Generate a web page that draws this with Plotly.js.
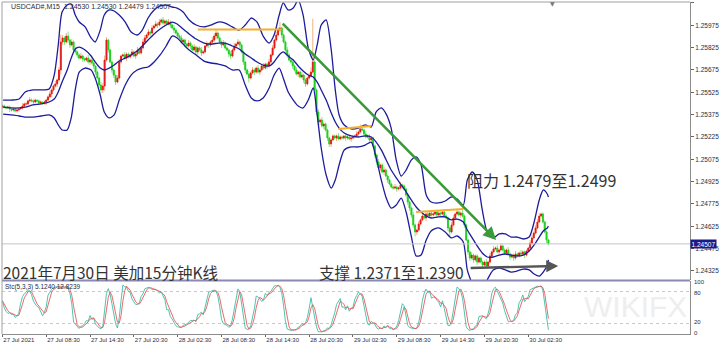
<!DOCTYPE html>
<html><head><meta charset="utf-8">
<script src="https://cdn.plot.ly/plotly-3.0.1.min.js"></script>
<style>html,body{margin:0;padding:0;background:#fff;overflow:hidden}#chart{width:720px;height:345px}</style>
</head><body><div id="chart"></div>
<script>
// ---------- DATA ----------
const symbolHeader = "USDCAD#,M15  1.24530 1.24530 1.24479 1.24507";
const stochHeader = "Stc(5,3,3) 5.1240 12.8239";
const firstOpen = 1.25426;
const closes = [
1.25433,1.25426,1.25420,1.25426,1.25413,1.25406,1.25413,1.25400,1.25406,1.25413,1.25420,
1.25433,1.25447,1.25447,1.25467,1.25473,1.25467,
1.25460,1.25473,1.25467,1.25453,1.25460,
1.25453,1.25460,1.25473,1.25494,1.25514,
1.25541,1.25567,1.25581,1.25608,1.25675,
1.25863,
1.25890,1.25863,1.25903,1.25876,1.25843,1.25863,
1.25809,1.25796,1.25776,1.25755,1.25769,
1.25749,1.25742,1.25755,1.25729,1.25742,1.25722,
1.25702,1.25661,1.25621,1.25574,1.25541,1.25567,
1.25742,1.25876,
1.25809,1.25729,1.25675,1.25641,1.25594,1.25621,
1.25729,1.25769,1.25776,1.25755,1.25782,1.25762,
1.25776,1.25796,1.25769,1.25782,1.25809,1.25789,1.25823,
1.25863,1.25890,
1.25910,1.25930,1.25923,1.25957,1.25970,1.25984,1.25977,
1.25997,1.26011,1.25990,1.26004,1.25984,1.25997,1.25977,
1.25957,1.25943,1.25923,1.25903,1.25890,1.25863,1.25876,1.25849,1.25836,1.25856,
1.25836,1.25809,1.25829,1.25796,1.25823,1.25809,1.25789,1.25796,
1.25836,1.25849,1.25843,1.25863,1.25876,1.25903,1.25923,1.25890,
1.25863,1.25843,1.25856,1.25823,1.25809,1.25782,1.25769,1.25809,
1.25836,1.25849,1.25863,1.25843,
1.25796,1.25729,1.25675,1.25648,
1.25621,1.25655,1.25675,1.25661,1.25688,1.25661,1.25675,
1.25702,1.25688,1.25715,1.25702,1.25729,
1.25776,1.25823,1.25876,1.25910,1.25943,1.25957,
1.25910,1.25863,1.25809,1.25776,1.25742,1.25729,1.25702,
1.25675,1.25648,1.25661,1.25628,1.25641,1.25608,1.25581,1.25621,
1.25635,1.25661,1.25729,
1.25541,1.25393,1.25326,
1.25339,1.25299,1.25312,1.25272,
1.25218,1.25178,1.25205,1.25232,
1.25218,1.25232,1.25212,1.25225,1.25218,1.25232,1.25218,1.25225,1.25212,1.25218,1.25225,1.25232,1.25245,
1.25259,1.25279,1.25272,
1.25245,1.25225,1.25232,1.25205,1.25218,
1.25165,1.25104,1.25057,1.25017,
1.25037,1.24990,1.25003,1.24963,1.24936,1.24909,
1.24889,1.24882,1.24889,1.24876,1.24882,
1.24903,1.24896,1.24876,
1.24835,1.24788,1.24748,
1.24701,1.24634,1.24587,1.24600,1.24641,
1.24668,1.24694,1.24681,1.24708,
1.24694,1.24714,1.24701,1.24708,1.24721,1.24701,1.24714,1.24708,1.24721,1.24694,1.24681,
1.24614,1.24587,1.24634,1.24681,
1.24708,1.24721,1.24701,1.24714,1.24694,
1.24634,1.24533,1.24453,1.24412,
1.24432,1.24399,1.24426,1.24385,1.24412,
1.24385,1.24365,1.24385,1.24359,
1.24385,1.24426,1.24453,1.24473,
1.24479,1.24453,1.24466,1.24493,1.24466,1.24446,1.24466,
1.24439,1.24419,1.24432,1.24412,1.24439,1.24426,1.24446,
1.24439,1.24453,1.24432,1.24459,
1.24479,1.24513,1.24547,1.24580,1.24614,
1.24654,1.24694,1.24708,
1.24654,1.24587,1.24533,1.24507
];
// wick lengths beyond the body, in pips
const upWickPips = [
1,1,0,1,1,0,1,1,1,0,1,2,1,1,1,2,1,1,1,0,
1,1,0,1,1,1,2,1,1,2,1,2,5,2,1,2,3,1,2,1,
2,1,1,2,1,1,1,2,1,1,1,0,1,1,2,2,3,2,1,1,
1,1,0,2,2,1,1,2,1,1,1,2,1,1,2,1,1,2,2,1,
2,1,2,1,2,1,2,1,2,1,1,2,1,1,2,1,1,1,2,1,
1,1,2,1,1,2,1,1,1,2,1,1,2,1,1,2,2,2,1,1,
1,2,1,1,1,2,1,2,1,2,1,1,1,0,1,2,1,2,1,1,
2,1,1,2,1,1,2,1,2,1,2,2,4,1,1,1,2,1,1,1,
1,2,1,1,2,1,1,1,2,3,29,1,1,2,1,2,1,1,1,1,
1,1,1,1,2,1,1,0,1,1,1,1,1,1,2,1,3,1,1,2,
1,1,1,1,1,1,2,1,1,2,1,1,1,1,1,2,1,1,2,1,
1,1,1,1,1,2,1,1,2,1,2,1,1,2,1,1,2,1,1,2,
1,1,2,1,1,1,2,2,1,2,1,1,2,1,1,1,1,2,1,1,
1,1,1,1,1,2,1,2,1,2,1,2,1,2,1,1,1,2,1,1,
1,2,1,1,2,1,1,1,1,2,2,1,2,2,2,1,1,1,1,1
];
const downWickPips = [
1,1,1,0,2,1,1,1,1,1,0,1,1,1,1,1,1,2,1,1,
1,1,1,1,2,1,1,2,1,1,2,1,3,2,2,1,2,2,1,2,
1,2,1,1,2,1,1,1,2,1,2,2,1,2,2,2,3,1,2,1,
2,2,2,1,1,1,1,1,2,1,1,1,1,2,1,1,1,1,2,1,
1,2,1,1,1,2,1,1,1,2,1,1,2,1,2,1,1,2,1,1,
2,1,1,2,1,1,2,2,1,2,1,1,1,2,1,1,1,2,1,1,
2,1,1,1,2,2,1,1,1,1,2,1,2,2,1,3,1,1,2,1,
1,2,1,1,1,2,1,1,1,1,1,1,1,2,1,2,2,1,1,2,
1,1,2,1,1,2,2,1,1,1,1,2,2,2,2,1,2,1,2,2,
2,1,1,2,1,1,1,1,2,1,1,2,1,1,1,1,1,1,2,1,
1,2,1,1,2,2,1,2,1,2,1,2,1,1,1,1,2,1,1,2,
1,1,2,2,2,2,3,2,1,1,1,1,2,1,1,1,1,1,2,1,
2,1,1,1,2,3,1,1,1,1,1,2,1,2,1,2,2,1,2,1,
2,1,1,2,1,1,1,1,1,1,1,1,2,1,1,1,1,1,2,1,
2,1,1,1,1,1,2,1,1,1,1,1,1,1,1,1,1,1,2,1
];
// Bollinger band lines (bar index, price)
const bandX = [0.4,4.8,9.2,12.5,16.9,21.2,25.6,28.4,30.6,32.7,35.5,37.7,39.9,42.1,45.3,48.6,50.8,53.6,55.8,58.5,
61.2,64.0,67.3,70.5,73.8,76.6,79.8,83.1,86.4,89.7,93.0,95.7,99.0,102.3,106.1,110.5,114.3,118.2,122.0,125.9,
129.7,133.0,136.3,139.5,142.8,146.1,148.8,151.6,153.8,156.5,159.3,162.0,164.7,167.5,170.2,172.4,174.6,177.3,180.1,182.3,
184.4,187.2,191.0,194.9,198.7,202.0,204.7,207.5,210.2,212.9,215.7,218.4,221.1,223.9,226.6,229.3,232.1,234.8,238.7,242.5,
245.8,249.1,252.4,254.6,257.3,260.0,262.8,265.5,268.8,272.1,275.4,278.6,281.9,285.2,288.5,291.2,294.0,296.2,298.4,299];
const bandUpper = [1.25473,1.25473,1.25480,1.25527,1.25541,1.25541,1.25547,1.25641,1.25843,1.26064,
1.26111,1.26118,1.26044,1.25997,1.25964,1.25890,1.25863,1.25943,1.26044,1.26078,
1.26071,1.26044,1.25997,1.25930,1.25910,1.25943,1.26024,1.26078,1.26105,1.26111,
1.26098,1.26091,1.26064,1.26011,1.25977,1.25964,1.25977,1.25997,1.25990,1.25964,
1.25943,1.25977,1.26024,1.25997,1.25903,1.25856,1.25910,1.26044,1.26125,1.26078,
1.26091,1.26145,1.26044,1.25823,1.25742,1.25843,1.25977,1.26011,1.25809,1.25541,
1.25373,1.25306,1.25279,1.25285,1.25306,1.25292,1.25393,1.25420,1.25379,1.25285,
1.25070,1.24963,1.25003,1.25070,1.25091,1.25037,1.24835,1.24788,1.24782,1.24795,
1.24822,1.24808,1.24768,1.24936,1.24990,1.24936,1.24735,1.24587,1.24547,1.24574,
1.24574,1.24553,1.24553,1.24540,1.24553,1.24654,1.24802,1.24869,1.24842,1.24822];
const bandMiddle = [1.25426,1.25420,1.25420,1.25426,1.25440,1.25447,1.25460,1.25480,1.25527,1.25594,
1.25675,1.25755,1.25816,1.25829,1.25809,1.25769,1.25729,1.25688,1.25675,1.25688,
1.25708,1.25735,1.25755,1.25776,1.25802,1.25836,1.25876,1.25917,1.25950,1.25977,
1.25997,1.25984,1.25950,1.25917,1.25883,1.25856,1.25849,1.25856,1.25856,1.25836,
1.25816,1.25782,1.25755,1.25729,1.25708,1.25702,1.25729,1.25776,1.25796,1.25769,
1.25742,1.25702,1.25668,1.25641,1.25628,1.25594,1.25541,1.25473,1.25386,1.25326,
1.25285,1.25252,1.25232,1.25225,1.25232,1.25225,1.25191,1.25138,1.25070,1.25003,
1.24950,1.24903,1.24856,1.24802,1.24755,1.24721,1.24694,1.24681,1.24688,1.24688,
1.24668,1.24674,1.24654,1.24600,1.24547,1.24493,1.24446,1.24419,1.24419,1.24432,
1.24439,1.24432,1.24426,1.24432,1.24459,1.24500,1.24553,1.24594,1.24614,1.24627];
const bandLower = [1.25379,1.25373,1.25366,1.25359,1.25359,1.25366,1.25373,1.25353,1.25306,1.25272,
1.25272,1.25353,1.25541,1.25661,1.25688,1.25675,1.25621,1.25507,1.25393,1.25353,
1.25373,1.25473,1.25574,1.25641,1.25675,1.25688,1.25695,1.25729,1.25776,1.25836,
1.25903,1.25890,1.25849,1.25809,1.25776,1.25735,1.25722,1.25715,1.25702,1.25675,
1.25675,1.25574,1.25487,1.25467,1.25487,1.25554,1.25641,1.25688,1.25621,1.25527,
1.25473,1.25433,1.25420,1.25473,1.25554,1.25373,1.25151,1.24970,1.24882,1.24936,
1.25037,1.25138,1.25158,1.25158,1.25171,1.25191,1.25084,1.24936,1.24815,1.24748,
1.24768,1.24815,1.24721,1.24560,1.24426,1.24432,1.24533,1.24594,1.24614,1.24587,
1.24547,1.24560,1.24520,1.24332,1.24238,1.24164,1.24184,1.24265,1.24332,1.24345,
1.24332,1.24318,1.24325,1.24338,1.24332,1.24305,1.24291,1.24318,1.24365,1.24399];
const timeTickIndex = [0,24,48,72,96,120,144,168,192,216,240,264,288];
const timeTickLabels = ["27 Jul 2021","27 Jul 08:30","27 Jul 14:30","27 Jul 20:30","28 Jul 02:30","28 Jul 08:30","28 Jul 14:30","28 Jul 20:30","29 Jul 02:30","29 Jul 08:30","29 Jul 14:30","29 Jul 20:30","30 Jul 02:30"];
const priceTicks = [1.24325,1.24475,1.24625,1.24775,1.24925,1.25075,1.25225,1.25375,1.25525,1.25675,1.25825,1.25975,1.26125];
const lastPrice = 1.24507;
const stochLevels = [20,80];
const stochLabels = ["100","80","20","0"];
const stochLabelAt = [99.5,78.5,21.5,0.5];
// analyst drawings (bar index, price)
const orangeLine1 = {x:[107,153], y:[1.25947,1.25947]};
const orangeLine2 = {x:[184,202], y:[1.25279,1.25299]};
const orangeLine3 = {x:[226.5,252.5], y:[1.24721,1.24741]};
const trendArrow = {x:[152.7,270.4], y:[1.25997,1.24533]};
const supportArrow = {x:[255.6,304.4], y:[1.24345,1.24359]};
const titleText = "2021年7月30日 美加15分钟K线";
const supportText = "支撑 1.2371至1.2390";
const resistText = "阻力 1.2479至1.2499";
const stK = 5, stD = 3, stSlow = 3;

// ---------- derived ----------
const n = closes.length;
const idx = closes.map((_, i) => i);
const pip = 0.0001;
const opens = closes.map((c, i) => i === 0 ? firstOpen : closes[i-1]);
const highs = closes.map((c, i) => Math.max(opens[i], c) + (upWickPips[i] || 0) * pip);
const lows = closes.map((c, i) => Math.min(opens[i], c) - (downWickPips[i] || 0) * pip);
const bodyHi = closes.map((c, i) => Math.max(opens[i], c));
const bodyLo = closes.map((c, i) => Math.min(opens[i], c));

// Stochastic (5,3,3) from the candles
const num = [], den = [];
for (let i = 0; i < n; i++) {
  const s = Math.max(0, i - stK + 1);
  const hh = Math.max(...highs.slice(s, i + 1));
  const ll = Math.min(...lows.slice(s, i + 1));
  num.push(closes[i] - ll); den.push(hh - ll);
}
const stMain = [], stSig = [];
for (let i = 0; i < n; i++) {
  const s = Math.max(0, i - stSlow + 1);
  let a = 0, b = 0;
  for (let j = s; j <= i; j++) { a += num[j]; b += den[j]; }
  stMain.push(b > 0 ? 100 * a / b : 50);
}
for (let i = 0; i < n; i++) {
  const s = Math.max(0, i - stD + 1);
  const w = stMain.slice(s, i + 1);
  stSig.push(w.reduce((x, y) => x + y, 0) / w.length);
}

// ---------- geometry (pixels -> paper) ----------
const W = 720, H = 345, mL = 2, mR = 30, mT = 2, mB = 11;
const plotH = H - mT - mB, plotW = W - mL - mR;
const py = p => (H - mB - p) / plotH;
const px = p => (p - mL) / plotW;

const smallFont = {family: "Liberation Sans, Arial, sans-serif", size: 6.5, color: "#2b2b3b"};
const cjkFont = {family: "Noto Sans CJK SC, sans-serif", size: 15.5, color: "#333333"};
const bandColor = "#1c1c9c";
const bandLine = {color: bandColor, width: 1.3, shape: "spline", smoothing: 0.7};

const traces = [
  {type: "candlestick", x: idx, open: opens, high: highs, low: lows, close: closes,
   increasing: {line: {color: "#f3b07c", width: 1}, fillcolor: "#f3b07c"},
   decreasing: {line: {color: "#90e090", width: 1}, fillcolor: "#90e090"},
   whiskerwidth: 0, xaxis: "x", yaxis: "y", hoverinfo: "skip"},
  {type: "candlestick", x: idx, open: opens, high: bodyHi, low: bodyLo, close: closes,
   increasing: {line: {color: "#e3141c", width: 0.8}, fillcolor: "#e3141c"},
   decreasing: {line: {color: "#1ccf1c", width: 0.8}, fillcolor: "#1ccf1c"},
   whiskerwidth: 0, xaxis: "x", yaxis: "y", hoverinfo: "skip"},
  {type: "scatter", mode: "lines", x: bandX, y: bandUpper, line: bandLine, xaxis: "x", yaxis: "y"},
  {type: "scatter", mode: "lines", x: bandX, y: bandMiddle, line: bandLine, xaxis: "x", yaxis: "y"},
  {type: "scatter", mode: "lines", x: bandX, y: bandLower, line: bandLine, xaxis: "x", yaxis: "y"},
  {type: "scatter", mode: "lines", x: orangeLine1.x, y: orangeLine1.y, line: {color: "#f6ae2d", width: 2.2}, xaxis: "x", yaxis: "y"},
  {type: "scatter", mode: "lines", x: orangeLine2.x, y: orangeLine2.y, line: {color: "#f6ae2d", width: 2}, xaxis: "x", yaxis: "y"},
  {type: "scatter", mode: "lines", x: orangeLine3.x, y: orangeLine3.y, line: {color: "#f6ae2d", width: 2}, xaxis: "x", yaxis: "y"},
  {type: "scatter", mode: "lines", x: idx, y: stMain, line: {color: "#3cbca8", width: 0.9}, xaxis: "x2", yaxis: "y2"},
  {type: "scatter", mode: "lines", x: idx, y: stSig, line: {color: "#e65a5a", width: 0.9}, xaxis: "x2", yaxis: "y2"}
];

const xr = [-0.2, 376.55];
const annotations = [
  {xref: "paper", yref: "paper", x: px(635), y: py(306), xanchor: "center", yanchor: "middle", text: "WIKIFX", showarrow: false,
   font: {family: "Liberation Sans, Arial, sans-serif", size: 30, color: "#eeeeee"}},
  {xref: "paper", yref: "paper", x: px(9), y: py(6), xanchor: "left", yanchor: "middle", text: symbolHeader, showarrow: false,
   font: Object.assign({}, smallFont, {size: 7})},
  {xref: "paper", yref: "paper", x: px(3), y: py(287), xanchor: "left", yanchor: "middle", text: stochHeader, showarrow: false, font: smallFont},
  {xref: "paper", yref: "paper", x: px(1), y: py(272), xanchor: "left", yanchor: "middle", text: titleText, showarrow: false, font: cjkFont},
  {xref: "paper", yref: "paper", x: px(317), y: py(272), xanchor: "left", yanchor: "middle", text: supportText, showarrow: false, font: cjkFont},
  {xref: "paper", yref: "paper", x: px(465), y: py(180), xanchor: "left", yanchor: "middle", text: resistText, showarrow: false, font: Object.assign({}, cjkFont, {size: 16})},
  {xref: "paper", yref: "y", x: 1, y: lastPrice, xanchor: "left", yanchor: "middle", text: lastPrice.toFixed(5), showarrow: false,
   bgcolor: "#1a1a88", borderpad: 0.5, font: {family: smallFont.family, size: 6.5, color: "#ffffff"}},
  {xref: "paper", yref: "paper", x: px(552), y: py(4), xanchor: "center", yanchor: "middle", text: "▼", showarrow: false,
   font: {family: "DejaVu Sans", size: 6, color: "#777777"}},
  {xref: "x", yref: "y", axref: "x", ayref: "y", x: trendArrow.x[1], y: trendArrow.y[1], ax: trendArrow.x[0], ay: trendArrow.y[0],
   showarrow: true, arrowhead: 2, arrowsize: 1, arrowwidth: 2.6, arrowcolor: "#3a9a3a", text: ""},
  {xref: "x", yref: "y", axref: "x", ayref: "y", x: supportArrow.x[1], y: supportArrow.y[1], ax: supportArrow.x[0], ay: supportArrow.y[0],
   showarrow: true, arrowhead: 2, arrowsize: 1, arrowwidth: 2.4, arrowcolor: "#555555", text: ""}
];
stochLabels.forEach((t, k) => annotations.push({xref: "paper", yref: "y2", x: 1 + 3 / plotW, y: stochLabelAt[k], xanchor: "left", yanchor: "middle",
  text: t, showarrow: false, borderpad: 0, font: Object.assign({}, smallFont, {size: 6})}));

const shapes = [
  {type: "line", xref: "paper", yref: "y", x0: 0, x1: 1, y0: lastPrice, y1: lastPrice, line: {color: "#c4c4c4", width: 1}},
  {type: "line", xref: "paper", yref: "paper", x0: 0, x1: 1, y0: py(280.5), y1: py(280.5), line: {color: "#8a8ab2", width: 2.2}},
  {type: "line", xref: "paper", yref: "paper", x0: 0, x1: 1, y0: 1, y1: 1, line: {color: "#a0a0a0", width: 1}},
  {type: "line", xref: "paper", yref: "paper", x0: 0, x1: 0, y0: 0, y1: 1, line: {color: "#a0a0a0", width: 1}}
];

const layout = {
  width: W, height: H, margin: {l: mL, r: mR, t: mT, b: mB, pad: 0},
  paper_bgcolor: "#ffffff", plot_bgcolor: "#ffffff", showlegend: false,
  xaxis: {domain: [0, 1], anchor: "y", range: xr, showticklabels: false, ticks: "", showgrid: false, zeroline: false,
          rangeslider: {visible: false}, fixedrange: true},
  xaxis2: {domain: [0, 1], anchor: "y2", range: xr, tickmode: "array", tickvals: timeTickIndex, ticktext: timeTickLabels,
           tickangle: 0, ticks: "outside", ticklen: 2, tickcolor: "#666", ticklabelposition: "outside right", ticklabelstandoff: 0,
           tickfont: Object.assign({}, smallFont, {size: 6}),
           showgrid: false, zeroline: false, showline: true, linecolor: "#8c8c8c", linewidth: 1},
  yaxis: {domain: [py(280), 1], anchor: "x", side: "right", range: [1.242645, 1.261316], tickmode: "array", tickvals: priceTicks,
          ticktext: priceTicks.map(v => v.toFixed(5)), ticks: "outside", ticklen: 3, tickcolor: "#666", tickfont: smallFont,
          showgrid: false, zeroline: false, showline: true, linecolor: "#8c8c8c", linewidth: 1},
  yaxis2: {domain: [0, py(281)], anchor: "x2", side: "right", range: [-1, 101], tickmode: "array", tickvals: stochLevels,
           showticklabels: false, ticks: "", showgrid: true, gridcolor: "#c8c8c8", griddash: "dot", gridwidth: 1,
           zeroline: false, showline: true, linecolor: "#8c8c8c", linewidth: 1},
  annotations: annotations, shapes: shapes
};
Plotly.newPlot("chart", traces, layout, {staticPlot: true, displayModeBar: false});
</script></body></html>
